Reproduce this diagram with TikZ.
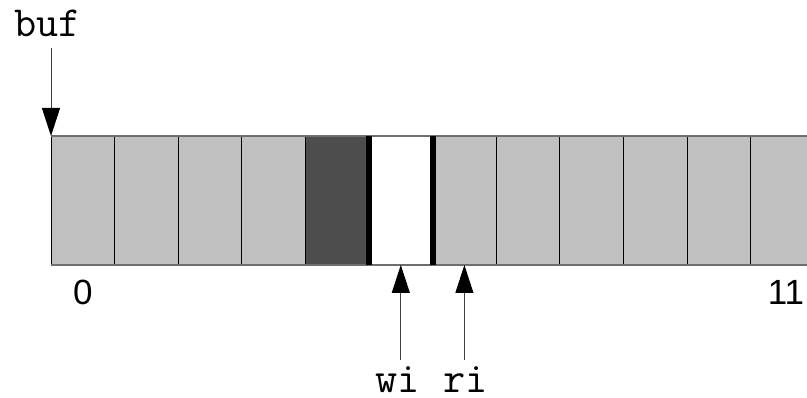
\documentclass[tikz,border=0pt]{standalone}
\usepackage{fontspec}
\usetikzlibrary{arrows.meta}
\newfontfamily\idxfont{Liberation Sans}
\definecolor{cellgrey}{RGB}{192,192,192}
\definecolor{fullgrey}{RGB}{77,77,77}
\definecolor{edgegrey}{RGB}{110,110,110}
\tikzset{cell/.style={
    fill=cellgrey, minimum width=63.6pt, minimum height=129pt,
    inner sep=0pt, outer sep=0pt}
}
\tikzset{ptr/.style={
    draw=black!75, line width=1pt,
    -{Triangle[width=18pt,length=28pt,color=black,fill=black]}}
}
\tikzset{ptrname/.style={
    anchor=base, inner sep=0pt, font=\ttfamily\fontsize{43}{45}\selectfont}
}

\begin{document}
\begin{tikzpicture}[x=1pt,y=-1pt]
        \clip (0,0) rectangle (807,398);
        %the ring buffer cells
        \foreach \i in {0,...,11}
            \node[cell](c\i) at (82.8+63.6*\i,200.5){};
        \node[cell,fill=fullgrey](c4) at (82.8+63.6*4,200.5){};
        \node[cell,fill=white](c5) at (82.8+63.6*5,200.5){};
        
        %separators
        \foreach \i in {0,...,11}
            \draw[black,line width=1pt] (c\i.north west) -- (c\i.south west);
        \draw[edgegrey,line width=1.5pt] (c0.north west) -- (c11.north east)
         (c0.south west) -- (c11.south east);
        \draw[black,line width=6pt] (c5.north west) -- (c5.south west)
         (c5.north east) -- (c5.south east);
        
        %pointers
        \node[ptrname](buf) at (47.5,37){buf};
        \coordinate (buftail) at ([yshift=-11pt]c0.north west |- buf.south);
        \draw[ptr] (buftail) -- (c0.north west);
        
        \node[ptrname](wi) at (397.5,392){wi};
        \node[ptrname](ri) at (465.5,392){ri};
        \coordinate (witail) at ([yshift=-95pt]c5.south);
        \coordinate (ritail) at ([yshift=-95pt]c6.south);
        \draw[ptr] (witail) -- (c5.south);
        \draw[ptr] (ritail) -- (c6.south);
        
        %indices
        \node[anchor=base,font=\idxfont\fontsize{35}{38}\selectfont](i0) at (82.8,305){0};
        \node[anchor=base,font=\idxfont\fontsize{35}{38}\selectfont](i11) at (786,305){11};
\end{tikzpicture}
\end{document}
